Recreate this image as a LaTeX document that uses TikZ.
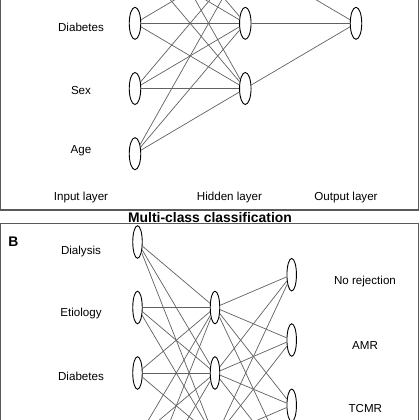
\documentclass[tikz,border=0pt]{standalone}
\usepackage{fontspec}
\setmainfont{Liberation Sans}
\usetikzlibrary{shapes.geometric}
\begin{document}
\begin{tikzpicture}[x=1pt,y=-1pt,
  neuronA/.style={ellipse,draw=black,line width=0.9pt,minimum width=11.5pt,minimum height=32pt,inner sep=0pt},
  neuronB/.style={ellipse,draw=black,line width=0.9pt,minimum width=9.5pt,minimum height=32.5pt,inner sep=0pt},
  link/.style={draw=black!62,line width=0.7pt},
  frame/.style={draw=black!65,line width=1.2pt},
  lbl/.style={font=\fontsize{11.6}{14}\selectfont,anchor=base,inner sep=0pt},
  ttl/.style={font=\fontsize{13.9}{16}\selectfont\bfseries,anchor=base,inner sep=0pt},
  ]
\useasboundingbox (0,0) rectangle (420,420);
\clip (0,0) rectangle (420,420);
\fill[white] (0,0) rectangle (420,420);

% panel frames
\draw[frame] (0.7,-100) rectangle (418.5,210);
\draw[frame] (0.7,223.5) rectangle (418.5,600);

% ---------- Panel A ----------
\foreach \i/\y in {1/-107.1,2/-41.9,3/23.3,4/88.5,5/153.7}
  \node[neuronA] (iA\i) at (135,\y) {};
\foreach \i/\y in {1/-41.9,2/23.3,3/88.5}
  \node[neuronA] (hA\i) at (245.3,\y) {};
\node[neuronA] (oA) at (356,23.3) {};

\foreach \i in {1,...,5}
  \foreach \j in {1,2,3}
    \draw[link] (iA\i) -- (hA\j);
\foreach \j in {1,2,3}
  \draw[link] (hA\j) -- (oA);

\node[lbl] (lDiabA) at (81,31.5) {Diabetes};
\node[lbl] (lSexA) at (81,94) {Sex};
\node[lbl] (lAgeA) at (81,153.3) {Age};
\node[lbl] (lIn) at (81,200) {Input layer};
\node[lbl] (lHid) at (229.5,200) {Hidden layer};
\node[lbl] (lOut) at (346,200) {Output layer};

% ---------- title ----------
\node[ttl] (title) at (210,222) {Multi-class classification};

% ---------- Panel B ----------
\node[ttl] (lB) at (13.3,246.7) {B};
\foreach \i/\y in {1/242,2/307.5,3/373,4/438.5,5/504}
  \node[neuronB] (iB\i) at (137.5,\y) {};
\foreach \i/\y in {1/307.5,2/373,3/438.5}
  \node[neuronB] (hB\i) at (215,\y) {};
\foreach \i/\y in {1/274.7,2/340,3/405.3,4/470.6}
  \node[neuronB] (oB\i) at (291.7,\y) {};

\foreach \i in {1,...,5}
  \foreach \j in {1,2,3}
    \draw[link] (iB\i) -- (hB\j);
\foreach \i in {1,2,3}
  \foreach \j in {1,...,4}
    \draw[link] (hB\i) -- (oB\j);

\node[lbl] (lDial) at (81,254.7) {Dialysis};
\node[lbl] (lEtio) at (81,316.3) {Etiology};
\node[lbl] (lDiabB) at (81,380.8) {Diabetes};
\node[lbl] (lNoRej) at (365,284.7) {No rejection};
\node[lbl] (lAMR) at (365,349.8) {AMR};
\node[lbl] (lTCMR) at (365.3,412.4) {TCMR};
\end{tikzpicture}
\end{document}
